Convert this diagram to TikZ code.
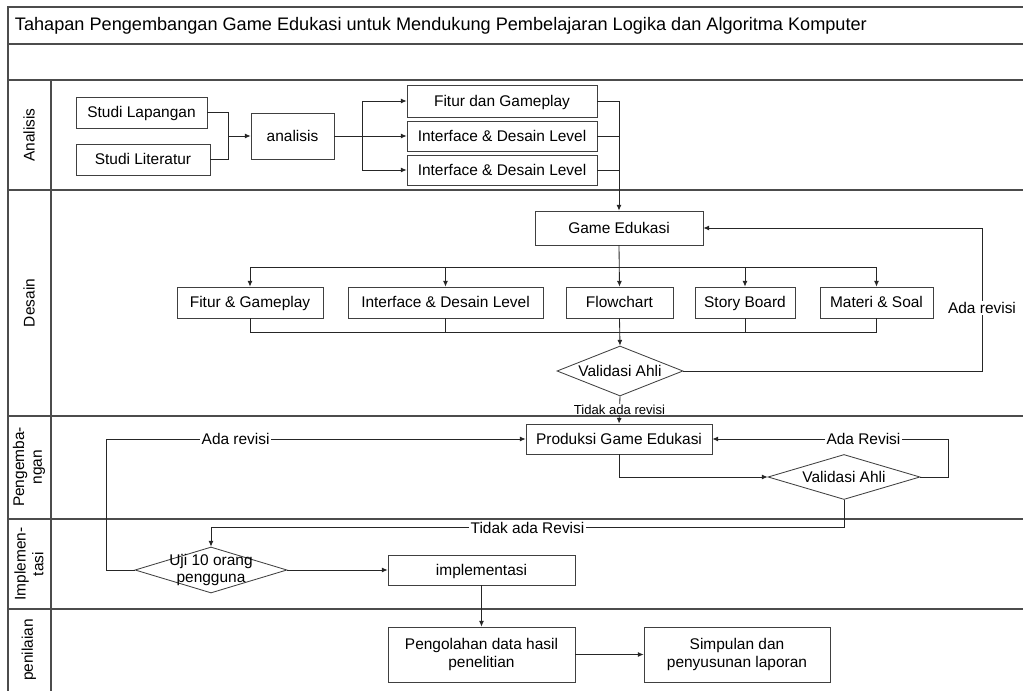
\documentclass[tikz,border=0pt]{standalone}
\usepackage{fontspec}
\setmainfont{Liberation Sans}
\usetikzlibrary{shapes.geometric,arrows.meta}

\begin{document}
\begin{tikzpicture}[x=0.25mm, y=-0.25mm,
    every node/.style={font=\fontsize{11pt}{12.5pt}\selectfont},
    lane/.style={draw=black!70, line width=1pt},
    box/.style={draw=black!75, line width=0.6pt, rectangle, inner sep=0pt, align=center, text height=7.5pt, text depth=0.3pt},
    twoline/.style={draw=black!75, line width=0.6pt, rectangle, inner sep=0pt, align=center},
    dec/.style={draw=black!75, line width=0.6pt, diamond, aspect=2.5, inner sep=0pt, align=center},
    arr/.style={draw=black!85, line width=0.6pt, -{Latex[length=4pt,width=3.5pt]}},
    line/.style={draw=black!85, line width=0.6pt},
    lbl/.style={fill=white, inner sep=1pt},
    lanelabel/.style={rotate=90, align=center}]
    \useasboundingbox (0,0) rectangle (1023,691);

    % Frame and lanes
    \draw[lane] (1023,7) -- (8,7) -- (8,691);
    \draw[lane] (8,44) -- (1023,44);
    \draw[lane] (8,80) -- (1023,80);
    \draw[lane] (8,190) -- (1023,190);
    \draw[lane] (8,416) -- (1023,416);
    \draw[lane] (8,519) -- (1023,519);
    \draw[lane] (8,609) -- (1023,609);
    \draw[lane] (51,80) -- (51,691);

    \node[anchor=west, font=\fontsize{12.9pt}{14pt}\selectfont] (title) at (10,26) {Tahapan Pengembangan Game Edukasi untuk Mendukung Pembelajaran Logika dan Algoritma Komputer};

    \node[lanelabel] (lanA) at (29,135) {Analisis};
    \node[lanelabel] (lanD) at (29,303) {Desain};
    \node[lanelabel] (lanP) at (29,467) {Pengemba-\\ngan};
    \node[lanelabel] (lanI) at (29,564) {Implemen-\\tasi};
    \node[lanelabel] (lanN) at (29,650) {penilaian};

    % Analisis
    \node[box, minimum width=32.75mm, minimum height=7.75mm] (lap) at (141.5,112.5) {Studi Lapangan};
    \node[box, minimum width=33.5mm, minimum height=7.75mm] (lit) at (143,159.5) {Studi Literatur};
    \node[box, minimum width=20.75mm, minimum height=11.5mm] (ana) at (292.5,136) {analisis};
    \node[box, minimum width=47.5mm, minimum height=8mm] (fitur1) at (502,101) {Fitur dan Gameplay};
    \node[box, minimum width=47.5mm, minimum height=7.5mm] (intf1) at (502,136) {Interface \& Desain Level};
    \node[box, minimum width=47.5mm, minimum height=7.5mm] (intf2) at (502,170) {Interface \& Desain Level};

    % Desain
    \node[box, minimum width=42mm, minimum height=8.5mm] (ge) at (619,228) {Game Edukasi};
    \node[box, minimum width=36.5mm, minimum height=7.75mm] (fg) at (250,302.5) {Fitur \& Gameplay};
    \node[box, minimum width=48.75mm, minimum height=7.75mm] (idl) at (445.5,302.5) {Interface \& Desain Level};
    \node[box, minimum width=26.75mm, minimum height=7.75mm] (flow) at (619.5,302.5) {Flowchart};
    \node[box, minimum width=25mm, minimum height=7.75mm] (sb) at (745,302.5) {Story Board};
    \node[box, minimum width=28.25mm, minimum height=7.75mm] (ms) at (876.5,302.5) {Materi \& Soal};
    \node[dec, minimum width=31.5mm, minimum height=12.5mm] (val1) at (620,371) {Validasi Ahli};

    % Pengembangan
    \node[box, minimum width=46.5mm, minimum height=7.5mm] (prod) at (619,439) {Produksi Game Edukasi};
    \node[dec, minimum width=38mm, minimum height=11.25mm] (val2) at (844,477) {Validasi Ahli};

    % Implementasi
    \node[dec, minimum width=38mm, minimum height=11.5mm] (uji) at (211,570) {\makebox[0pt]{Uji 10 orang}\\\makebox[0pt]{pengguna}};
    \node[box, minimum width=46.75mm, minimum height=7.5mm] (impl) at (481.5,570) {implementasi};

    % Penilaian
    \node[twoline, minimum width=46.75mm, minimum height=13.75mm] (olah) at (481.5,654.5) {Pengolahan data hasil\\penelitian};
    \node[twoline, minimum width=46.5mm, minimum height=13.75mm] (simp) at (737,654.5) {Simpulan dan\\penyusunan laporan};

    % Connections analisis
    \coordinate (j1) at (228,136);
    \coordinate (j2) at (362,136);
    \draw[line] (lap.east) -| (j1);
    \draw[line] (lit.east) -| (j1);
    \draw[arr] (j1) -- (ana.west);
    \draw[line] (ana.east) -- (j2);
    \draw[arr] (j2) |- (fitur1.west);
    \draw[arr] (j2) -- (intf1.west);
    \draw[arr] (j2) |- (intf2.west);
    \draw[arr] (fitur1.east) -| (ge.north);
    \draw[line] (intf1.east) -- (intf1.east -| ge.north);
    \draw[line] (intf2.east) -- (intf2.east -| ge.north);

    % Connections desain
    \coordinate (bus1) at (619,267);
    \coordinate (bus2) at (619,332);
    \draw[arr] (ge.south) -- (flow.north);
    \draw[arr] (bus1) -| (fg.north);
    \draw[arr] (bus1) -| (idl.north);
    \draw[arr] (bus1) -| (sb.north);
    \draw[arr] (bus1) -| (ms.north);
    \draw[line] (fg.south) |- (bus2);
    \draw[line] (idl.south) |- (bus2);
    \draw[line] (sb.south) |- (bus2);
    \draw[line] (ms.south) |- (bus2);
    \draw[arr] (flow.south) -- (val1.north);
    \draw[arr] (val1.east) -- (982,371) -- node[lbl, pos=0.44] {Ada revisi} (982,228) -- (ge.east);
    \draw[arr] (val1.south) -- node[lbl, font=\fontsize{9.3pt}{10pt}\selectfont, inner sep=0.5pt] {Tidak ada revisi} (prod.north);

    % Connections pengembangan
    \draw[arr] (prod.south) |- (val2.west);
    \draw[arr] (val2.east) -- ++(28,0) |- node[lbl, pos=0.68] {Ada Revisi} (prod.east);
    \draw[arr] (val2.south) -- ++(0,28) -| node[lbl, pos=0.25] {Tidak ada Revisi} (uji.north);
    \draw[arr] (uji.west) -- ++(-28,0) |- node[lbl, pos=0.654] {Ada revisi} (prod.west);

    % Connections implementasi dan penilaian
    \draw[arr] (uji.east) -- (impl.west);
    \draw[arr] (impl.south) -- (olah.north);
    \draw[arr] (olah.east) -- (simp.west);

\end{tikzpicture}
\end{document}
